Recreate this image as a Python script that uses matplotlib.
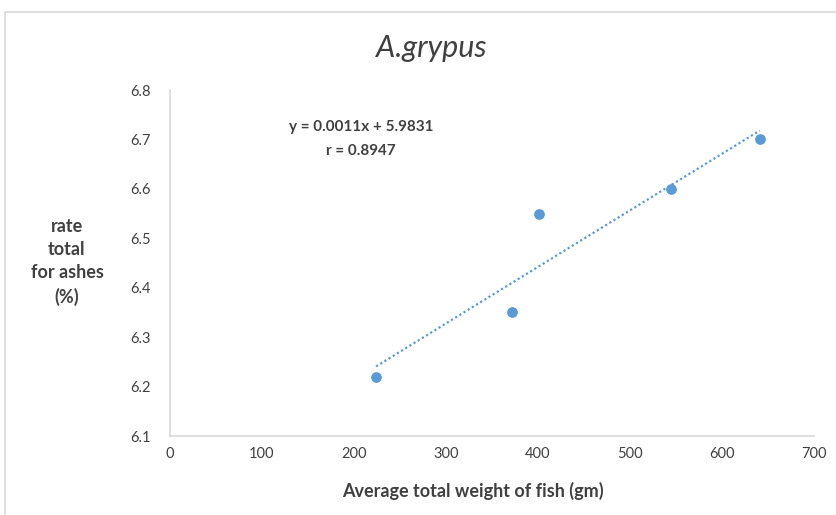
import numpy as np
import matplotlib.pyplot as plt
from matplotlib.patches import Rectangle

plt.rcParams['font.family'] = ['Lato', 'DejaVu Sans']

# data
weight = np.array([224, 372, 401, 545, 641])
ash = np.array([6.22, 6.35, 6.55, 6.60, 6.70])
x_ticks = [0, 100, 200, 300, 400, 500, 600, 700]
y_ticks = [6.1, 6.2, 6.3, 6.4, 6.5, 6.6, 6.7, 6.8]
title = 'A.grypus'
eq_text = 'y = 0.0011x + 5.9831\nr = 0.8947'

blue = '#5B9BD5'
grey = '#D9D9D9'
txt = '#404040'

fig = plt.figure(figsize=(8.37, 5.15), dpi=100)
fig.patches.append(Rectangle((5/837, -0.05), 1.2, 1 - 12/515 + 0.05, transform=fig.transFigure,
                             fill=False, edgecolor=grey, linewidth=1.2))

ax = fig.add_axes([170/837, 1 - 436/515, 644/837, 346/515])

# trendline
k, b = np.polyfit(weight, ash, 1)
xs = np.array([weight.min(), weight.max()])
ax.plot(xs, k*xs + b, linestyle=(0, (1, 1.2)), color=blue, linewidth=1.6)
ax.scatter(weight, ash, s=45, color=blue, zorder=3)

ax.set_xlim(0, 700)
ax.set_ylim(6.1, 6.8)
ax.set_xticks(x_ticks)
ax.set_yticks(y_ticks)
ax.set_yticklabels(['%.1f' % v for v in y_ticks])
ax.tick_params(length=0, labelsize=10.5, colors=txt, pad=8)
ax.tick_params(axis='y', pad=14)
for s in ['top', 'right']:
    ax.spines[s].set_visible(False)
for s in ['left', 'bottom']:
    ax.spines[s].set_color(grey)
    ax.spines[s].set_linewidth(1.2)

fig.text(361/837, 1 - 139/515, eq_text, ha='center', va='center', fontsize=11,
         fontweight='bold', color=txt, linespacing=1.85)

fig.text(431/837, 1 - 48/515, title, ha='center', va='center', fontsize=22,
         style='italic', color=txt)
fig.text(67/837, 1 - 262/515, 'rate\ntotal\nfor ashes\n(%)', ha='center', va='center',
         fontsize=13, fontweight='bold', color=txt, linespacing=1.45)
fig.text(473/837, 1 - 491/515, 'Average total weight of fish (gm)', ha='center', va='center',
         fontsize=13, fontweight='bold', color=txt)

fig.savefig('out.png', dpi=100)
